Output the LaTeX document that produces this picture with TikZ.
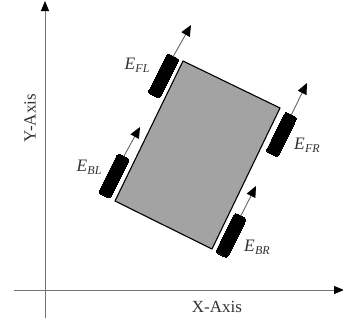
\documentclass[tikz,border=0pt]{standalone}
\usepackage{fontspec}
\setmainfont{Liberation Serif}
\usetikzlibrary{arrows.meta}
\newcommand{\wheellab}[2]{{\itshape #1\kern0.3pt\raisebox{-3.2pt}{\fontsize{12}{12}\selectfont #2}}}
\tikzset{
  axisline/.style={draw=black!55,line width=0.9pt},
  axisarrow/.style={axisline,-{Triangle[length=10pt,width=8pt,color=black]}},
  drive/.style={draw=black!60,line width=0.9pt,-{Triangle[length=11pt,width=9.5pt,color=black]}},
  wheelbox/.style={fill=black,draw=black,rounded corners=2.5pt,minimum width=44pt,minimum height=13pt,inner sep=0pt,rotate=63.5,line width=0pt},
  axislabel/.style={font=\fontsize{17}{17}\selectfont,text=black!80,inner sep=0pt},
  wheellabel/.style={font=\fontsize{17.5}{17.5}\selectfont,text=black!80,inner sep=0pt},
  body/.style={fill=black!36,draw=black,line width=1.1pt,line join=miter}
}
\begin{document}
\begin{tikzpicture}[x=1pt,y=-1pt]
\useasboundingbox (0,0) rectangle (343,327);
% axes
\coordinate (ys) at (45,318);
\coordinate (ye) at (45,1);
\coordinate (xs) at (14,290);
\coordinate (xe) at (344,290);
\draw[axisarrow] (ys) -- (ye);
\draw[axisarrow] (xs) -- (xe);
\node[axislabel] (xl) at (217,307) {X-Axis};
\node[axislabel,rotate=90] (yl) at (30,118) {Y-Axis};
% body
\coordinate (c1) at (183,61);
\coordinate (c2) at (280,108);
\coordinate (c3) at (212,249);
\coordinate (c4) at (115,201);
\draw[body] (c1) -- (c2) -- (c3) -- (c4) -- cycle;
% wheels
\node[wheelbox] (fl) at (163.5,76) {};
\node[wheelbox] (fr) at (281.5,134.5) {};
\node[wheelbox] (br) at (231,235.5) {};
\node[wheelbox] (bl) at (114,176) {};
% arrows
\coordinate (flt) at (191,25);
\coordinate (frt) at (307,83);
\coordinate (brt) at (256,186);
\coordinate (blt) at (140,127);
\draw[drive] (fl.east) -- (flt);
\draw[drive] (fr.east) -- (frt);
\draw[drive] (br.east) -- (brt);
\draw[drive] (bl.east) -- (blt);
% labels
\node[wheellabel] (lfl) at (137,65) {\wheellab{E}{FL}};
\node[wheellabel] (lfr) at (307,145) {\wheellab{E}{FR}};
\node[wheellabel] (lbr) at (257,247) {\wheellab{E}{BR}};
\node[wheellabel] (lbl) at (89,167) {\wheellab{E}{BL}};
\end{tikzpicture}
\end{document}
